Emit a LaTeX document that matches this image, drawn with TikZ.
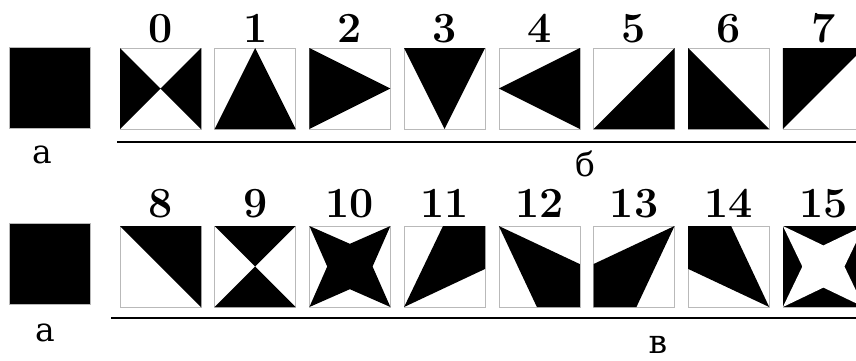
\documentclass[tikz,border=0pt]{standalone}
\usepackage{fontspec}
\newfontfamily\cyrfont{DejaVu Serif}
\usetikzlibrary{positioning}

\begin{document}
\begin{tikzpicture}[
        x=1pt, y=-1pt,
        tile/.style={draw=gray!55, line width=0.5pt, minimum size=81pt, inner sep=0pt, outer sep=0pt, anchor=north west},
        glyph/.style={fill=black, shift={(#1.south west)}, x=81pt, y=81pt},
        num/.style={font=\fontsize{43}{48}\selectfont\bfseries, anchor=base, inner sep=0pt},
        caption/.style={font=\cyrfont\fontsize{33}{40}\selectfont, anchor=base, inner sep=0pt},
        rule/.style={line width=1.6pt}
    ]
        \clip (0,0) rectangle (856,360);
        \coordinate (r1) at (0,42);
        \coordinate (r2) at (0,217);

        % first row
        \node[tile, fill=black] (a1) at (9,47) {};
        \node[tile] (t0) at (120,48) {};
        \node[tile] (t1) at (214.7,48) {};
        \node[tile] (t2) at (309.4,48) {};
        \node[tile] (t3) at (404.1,48) {};
        \node[tile] (t4) at (498.8,48) {};
        \node[tile] (t5) at (593.5,48) {};
        \node[tile] (t6) at (688.2,48) {};
        \node[tile] (t7) at (782.9,48) {};

        \node[num] (n0) at (t0 |- r1) {0};
        \node[num] (n1) at (t1 |- r1) {1};
        \node[num] (n2) at (t2 |- r1) {2};
        \node[num] (n3) at (t3 |- r1) {3};
        \node[num] (n4) at (t4 |- r1) {4};
        \node[num] (n5) at (t5 |- r1) {5};
        \node[num] (n6) at (t6 |- r1) {6};
        \node[num] (n7) at (t7 |- r1) {7};

        \fill[glyph=t0] (0,0) -- (0,1) -- (.5,.5) -- cycle (1,0) -- (1,1) -- (.5,.5) -- cycle;
        \fill[glyph=t1] (0,0) -- (1,0) -- (.5,1) -- cycle;
        \fill[glyph=t2] (0,1) -- (0,0) -- (1,.5) -- cycle;
        \fill[glyph=t3] (0,1) -- (1,1) -- (.5,0) -- cycle;
        \fill[glyph=t4] (1,1) -- (1,0) -- (0,.5) -- cycle;
        \fill[glyph=t5] (0,0) -- (1,0) -- (1,1) -- cycle;
        \fill[glyph=t6] (0,1) -- (0,0) -- (1,0) -- cycle;
        \fill[glyph=t7] (0,0) -- (0,1) -- (1,1) -- cycle;

        \coordinate (u1) at (117,142);
        \coordinate (v1) at (856,142);
        \draw[rule] (u1) -- (v1);
        \node[caption] (ca1) at (42,163) {а};
        \node[caption] (cb) at (585,176) {б};

        % second row
        \node[tile, fill=black] (a2) at (9,223) {};
        \node[tile] (t8) at (120,226) {};
        \node[tile] (t9) at (214.7,226) {};
        \node[tile] (t10) at (309.4,226) {};
        \node[tile] (t11) at (404.1,226) {};
        \node[tile] (t12) at (498.8,226) {};
        \node[tile] (t13) at (593.5,226) {};
        \node[tile] (t14) at (688.2,226) {};
        \node[tile] (t15) at (782.9,226) {};

        \node[num] (n8) at (t8 |- r2) {8};
        \node[num] (n9) at (t9 |- r2) {9};
        \node[num] (n10) at (t10 |- r2) {10};
        \node[num] (n11) at (t11 |- r2) {11};
        \node[num] (n12) at (t12 |- r2) {12};
        \node[num] (n13) at (t13 |- r2) {13};
        \node[num] (n14) at (t14 |- r2) {14};
        \node[num] (n15) at (t15 |- r2) {15};

        \fill[glyph=t8] (0,1) -- (1,1) -- (1,0) -- cycle;
        \fill[glyph=t9] (0,1) -- (1,1) -- (.5,.5) -- cycle (0,0) -- (1,0) -- (.5,.5) -- cycle;
        \fill[glyph=t10] (0,0) -- (.5,.22) -- (1,0) -- (.78,.5) -- (1,1) -- (.5,.78) -- (0,1) -- (.22,.5) -- cycle;
        \fill[glyph=t11] (0,0) -- (.48,1) -- (1,1) -- (1,.47) -- cycle;
        \fill[glyph=t12] (0,1) -- (1,.53) -- (1,0) -- (.47,0) -- cycle;
        \fill[glyph=t13] (1,1) -- (0,.53) -- (0,0) -- (.53,0) -- cycle;
        \fill[glyph=t14] (0,1) -- (.53,1) -- (1,0) -- (0,.47) -- cycle;
        \fill[glyph=t15] (0,0) rectangle (1,1);
        \fill[glyph=t15, fill=white] (0,0) -- (.5,.24) -- (1,0) -- (.76,.5) -- (1,1) -- (.5,.76) -- (0,1) -- (.24,.5) -- cycle;

        \coordinate (u2) at (111,318);
        \coordinate (v2) at (856,318);
        \draw[rule] (u2) -- (v2);
        \node[caption] (ca2) at (45,341) {а};
        \node[caption] (cc) at (658,353) {в};
    \end{tikzpicture}
\end{document}
